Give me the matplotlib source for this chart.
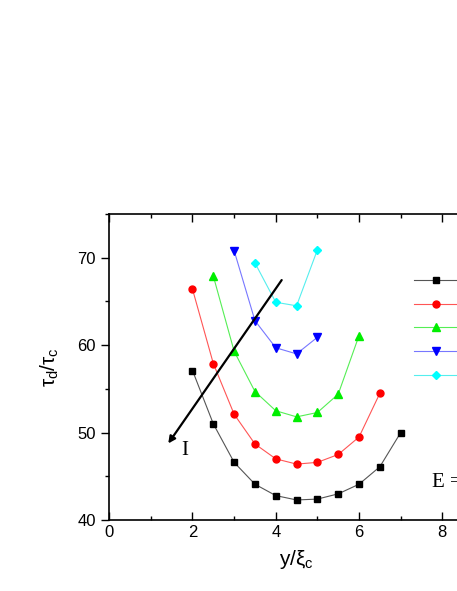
import matplotlib
matplotlib.use('Agg')
from matplotlib import pyplot as plt
from matplotlib.ticker import MultipleLocator

plt.rcParams['font.family'] = ['Liberation Sans', 'DejaVu Sans']
plt.rcParams['mathtext.fontset'] = 'custom'
plt.rcParams['mathtext.rm'] = 'Liberation Sans'
plt.rcParams['mathtext.it'] = 'Liberation Sans'

# data
x_black = [2, 2.5, 3, 3.5, 4, 4.5, 5, 5.5, 6, 6.5, 7]
y_black = [57.1, 51.0, 46.6, 44.1, 42.8, 42.3, 42.4, 43.0, 44.1, 46.1, 50.0]
x_red = [2, 2.5, 3, 3.5, 4, 4.5, 5, 5.5, 6, 6.5]
y_red = [66.4, 57.9, 52.1, 48.7, 47.0, 46.4, 46.6, 47.5, 49.5, 54.5]
x_green = [2.5, 3, 3.5, 4, 4.5, 5, 5.5, 6]
y_green = [67.9, 59.3, 54.7, 52.5, 51.8, 52.3, 54.4, 61.1]
x_blue = [3, 3.5, 4, 4.5, 5]
y_blue = [70.8, 62.8, 59.7, 59.0, 60.9]
x_cyan = [3.5, 4, 4.5, 5]
y_cyan = [69.4, 64.9, 64.5, 70.9]
labels = ['1', '2', '3', '4', '5']

fig = plt.figure(figsize=(4.57, 5.91), dpi=100)
ax = fig.add_axes([0.239, 0.120, 0.82, 0.518])

ms = 4.5
ax.plot(x_black, y_black, '-s', color='#555555', lw=0.8, mfc='black', mec='black', ms=ms, label=labels[0])
ax.plot(x_red, y_red, '-o', color='#ff5555', lw=0.8, mfc='red', mec='red', ms=ms + 0.5, label=labels[1])
ax.plot(x_green, y_green, '-^', color='#55ee55', lw=0.8, mfc='#00ee00', mec='#00ee00', ms=ms + 1, label=labels[2])
ax.plot(x_blue, y_blue, '-v', color='#7777ff', lw=0.8, mfc='blue', mec='blue', ms=ms + 1, label=labels[3])
ax.plot(x_cyan, y_cyan, '-D', color='#55eeee', lw=0.8, mfc='cyan', mec='cyan', ms=ms, label=labels[4])

ax.annotate('', xy=(1.38, 48.5), xytext=(4.18, 67.7),
            arrowprops=dict(arrowstyle='-|>', color='black', lw=1.6, mutation_scale=10))
ax.text(1.82, 48.0, 'I', fontsize=15, family='Liberation Serif', ha='center', va='center')
ax.text(7.75, 44.3, 'E =', fontsize=15, family='Liberation Serif', ha='left', va='center')

ax.set_xlim(0, 9)
ax.set_ylim(40, 75)
ax.xaxis.set_major_locator(MultipleLocator(2))
ax.xaxis.set_minor_locator(MultipleLocator(1))
ax.yaxis.set_major_locator(MultipleLocator(10))
ax.yaxis.set_minor_locator(MultipleLocator(5))
ax.tick_params(axis='x', which='both', direction='in', top=True, labelsize=12)
ax.tick_params(axis='x', which='major', length=6, width=1)
ax.tick_params(axis='x', which='minor', length=3, width=1)
ax.tick_params(axis='y', which='major', direction='out', length=6, width=1, labelsize=12)
ax.tick_params(axis='y', which='minor', direction='out', length=3, width=1)
for s in ax.spines.values():
    s.set_linewidth(1.2)

ax.set_xlabel(r'y/$\xi_c$', fontsize=15, labelpad=6)
ax.set_ylabel(r'$\tau_d/\tau_c$', fontsize=15, labelpad=12)

ax.legend(loc='upper left', bbox_to_anchor=(0.78, 0.845), frameon=False,
          fontsize=10, handlelength=3.2, labelspacing=0.7)

fig.savefig('out.png', dpi=100)
